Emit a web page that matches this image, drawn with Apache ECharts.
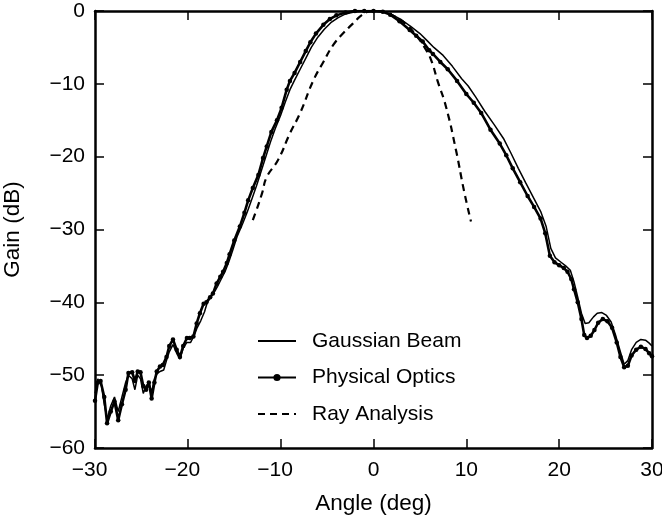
<!DOCTYPE html>
<html>
<head>
<meta charset="utf-8">
<script src="https://cdn.jsdelivr.net/npm/echarts@6/dist/echarts.min.js"></script>
<style>
  html, body { margin: 0; padding: 0; background: #fff; }
  #chart { width: 662px; height: 516px; }
</style>
</head>
<body>
<div id="chart"></div>
<script>
// Antenna pattern: gain versus angle for three analysis methods
const xTicks = [-30, -20, -10, 0, 10, 20, 30];
const yTicks = [-60, -50, -40, -30, -20, -10, 0];

// Physical optics (thick line with dots)
const poAngle = [-30.0, -29.7, -29.4, -29.0, -28.7, -28.3, -27.9, -27.5, -27.1, -26.7, -26.4, -26.0, -25.7, -25.4, -25.1, -24.8, -24.5, -24.2, -23.9, -23.6, -23.35, -23.0, -22.7, -22.3, -22.0, -21.6, -21.2, -20.85, -20.5, -20.1, -19.8, -19.4, -19.05, -18.7, -18.3, -18.0, -17.6, -17.3, -16.9, -16.5, -16.2, -15.8, -15.5, -15.0, -14.4, -13.9, -13.5, -13.0, -12.4, -11.9, -11.5, -11.0, -10.4, -9.9, -9.35, -9.0, -8.5, -7.9, -7.3, -6.8, -6.2, -5.4, -4.7, -4.0, -3.0, -2.0, -1.0, 0, 1.0, 1.8, 2.8, 3.9, 4.6, 5.3, 6.0, 6.4, 7.2, 8.0, 9.0, 10.0, 10.8, 11.6, 12.6, 13.6, 14.3, 15.0, 15.8, 16.6, 17.3, 18.0, 18.5, 19.0, 19.5, 20.0, 20.5, 20.9, 21.3, 21.6, 22.0, 22.4, 22.7, 23.0, 23.4, 23.8, 24.2, 24.7, 25.2, 25.7, 26.2, 26.6, 27.0, 27.4, 27.8, 28.3, 28.8, 29.3, 29.7, 30.0];
const poGain = [-53.5, -51.0, -50.8, -53.0, -56.6, -55.0, -53.6, -56.2, -54.0, -52.0, -49.7, -49.6, -50.8, -49.5, -49.6, -51.5, -52.0, -51.0, -53.2, -51.0, -49.5, -48.8, -48.6, -47.5, -46.0, -45.1, -46.5, -47.5, -46.0, -44.9, -44.9, -44.7, -42.9, -41.5, -40.2, -40.0, -39.3, -38.8, -37.4, -36.5, -35.8, -34.6, -33.4, -31.5, -29.6, -27.7, -26.0, -24.3, -22.5, -20.2, -18.6, -16.6, -15.0, -13.3, -10.8, -9.6, -8.5, -7.0, -5.5, -4.3, -3.1, -1.9, -1.1, -0.6, -0.2, 0, 0, 0, -0.1, -0.5, -1.4, -2.6, -3.4, -4.2, -5.4, -5.9, -7.0, -8.0, -9.6, -11.4, -12.6, -14.0, -16.3, -18.2, -19.8, -21.6, -23.5, -25.4, -26.9, -28.5, -30.5, -33.6, -34.5, -34.9, -35.3, -35.8, -36.8, -38.2, -40.0, -42.3, -44.5, -44.9, -44.6, -43.8, -42.8, -42.3, -42.6, -43.5, -45.5, -47.5, -48.9, -48.7, -47.3, -46.5, -46.1, -46.4, -47.0, -47.4];

// Gaussian beam (thin line)
const gbAngle = [-30.0, -29.7, -29.3, -29.0, -28.7, -28.3, -27.9, -27.5, -27.1, -26.7, -26.4, -26.0, -25.7, -25.4, -25.1, -24.8, -24.5, -24.2, -23.9, -23.6, -23.3, -23.0, -22.6, -22.3, -22.0, -21.6, -21.2, -20.85, -20.5, -20.1, -19.7, -19.3, -19.0, -18.6, -18.2, -17.9, -17.5, -17.1, -16.8, -16.4, -16.0, -15.6, -15.2, -14.7, -14.1, -13.6, -13.1, -12.6, -12.1, -11.6, -11.1, -10.6, -10.0, -9.5, -9.0, -8.5, -7.9, -7.3, -6.7, -6.0, -5.3, -4.6, -3.8, -3.0, -2.0, -1.0, 0, 1.0, 2.0, 3.0, 4.0, 5.0, 5.8, 6.5, 7.5, 8.5, 9.5, 10.2, 11.0, 12.0, 13.0, 14.0, 14.8, 15.6, 16.4, 17.3, 18.0, 18.6, 19.1, 19.6, 20.2, 20.7, 21.2, 21.6, 22.0, 22.4, 22.8, 23.2, 23.7, 24.1, 24.6, 25.1, 25.6, 26.1, 26.6, 27.0, 27.4, 27.8, 28.3, 28.8, 29.3, 29.7, 30.0];
const gbGain = [-52.5, -50.5, -51.5, -54.0, -56.0, -54.2, -53.0, -55.0, -53.0, -51.0, -50.0, -50.5, -52.0, -50.0, -50.5, -52.5, -51.5, -51.0, -52.3, -50.5, -49.8, -49.5, -49.3, -48.0, -46.8, -45.8, -47.0, -47.8, -46.3, -45.5, -45.5, -44.5, -43.5, -42.5, -41.3, -40.0, -39.2, -38.5, -37.8, -36.8, -35.8, -34.5, -33.0, -31.0, -29.2, -27.6, -25.8, -24.0, -22.0, -20.0, -18.0, -16.2, -14.3, -12.5, -10.8, -9.5, -8.0, -6.5, -5.0, -3.6, -2.5, -1.6, -0.9, -0.4, -0.1, 0, 0, -0.1, -0.5, -1.2, -2.1, -3.1, -4.1, -5.0, -6.1, -7.6, -9.3, -10.3, -11.8, -13.8, -15.6, -17.5, -19.5, -21.6, -23.6, -25.8, -27.5, -29.6, -32.6, -33.9, -34.5, -35.0, -35.6, -37.2, -39.3, -41.5, -42.9, -42.8, -42.0, -41.5, -41.4, -41.8, -42.7, -44.6, -46.8, -48.5, -48.0, -46.5, -45.5, -45.1, -45.2, -45.6, -46.0];

// Ray analysis (dashed line)
const rayAngle = [-13.0, -12.6, -12.0, -11.5, -10.3, -9.0, -7.9, -6.5, -5.4, -4.35, -3.3, -2.2, -1.3, -0.5, 0.5, 1.5, 2.5, 3.5, 4.5, 5.5, 6.2, 6.9, 7.8, 8.9, 9.75, 10.5];
const rayGain = [-28.7, -27.3, -25.0, -22.8, -20.5, -16.8, -14.0, -9.6, -7.0, -4.7, -3.1, -1.7, -0.6, -0.1, 0, -0.3, -0.9, -1.8, -3.2, -5.0, -6.7, -9.6, -13.1, -19.2, -24.7, -28.9];

const zip = (xs, ys) => xs.map((x, i) => [x, ys[i]]);
const minus = v => String(v).replace('-', '\u2212');
// x labels: keep the digits centred on the tick, the minus sign hangs to the left
const xLabel = v => (v < 0 ? '{neg|' + minus(v) + '}' : minus(v));

const FONT = '"Liberation Sans", Arial, Helvetica, sans-serif';
const INK = '#000';
const CLEAR = 'rgba(0,0,0,0)';

const baseAxis = {
  min: -30, max: 30, interval: 10,
  axisLine: { onZero: false, lineStyle: { color: INK, width: 2.5 } },
  axisTick: { inside: true, length: 9, lineStyle: { color: INK, width: 1.5 } },
  splitLine: { show: false }
};

const chart = echarts.init(document.getElementById('chart'), null, { renderer: 'canvas' });
chart.setOption({
  animation: false,
  backgroundColor: '#fff',
  textStyle: { fontFamily: FONT, color: INK },
  grid: { left: 95, right: 10, top: 11, bottom: 68, containLabel: false, outerBoundsMode: 'none' },
  legend: {
    orient: 'vertical',
    left: 252, top: 325,
    itemWidth: 38, itemHeight: 9, itemGap: 14.5,
    textStyle: { fontFamily: FONT, fontSize: 21, color: INK, lineHeight: 22, padding: [0, 0, 0, 11] },
    data: ['Gaussian Beam', 'Physical Optics', 'Ray Analysis']
  },
  xAxis: [
    Object.assign({}, baseAxis, {
      type: 'value', position: 'bottom',
      name: 'Angle (deg)', nameLocation: 'middle', nameGap: 44,
      nameTextStyle: { fontFamily: FONT, fontSize: 22.5, color: INK },
      axisLabel: {
        fontFamily: FONT, fontSize: 21, color: INK, margin: 12, formatter: xLabel,
        rich: { neg: { fontFamily: FONT, fontSize: 21, color: INK, padding: [0, 11, 0, 0] } }
      }
    }),
    Object.assign({}, baseAxis, {
      type: 'value', position: 'top',
      axisLabel: { show: false }
    })
  ],
  yAxis: [
    Object.assign({}, baseAxis, {
      type: 'value', position: 'left', min: -60, max: 0, interval: 10,
      name: 'Gain (dB)', nameLocation: 'middle', nameGap: 71,
      nameTextStyle: { fontFamily: FONT, fontSize: 22.5, color: INK },
      axisLabel: { fontFamily: FONT, fontSize: 21, color: INK, margin: 10, formatter: minus }
    }),
    Object.assign({}, baseAxis, {
      type: 'value', position: 'right', min: -60, max: 0, interval: 10,
      axisLabel: { show: false }
    })
  ],
  series: [
    {
      name: 'Gaussian Beam', type: 'line', xAxisIndex: 0, yAxisIndex: 0,
      data: zip(gbAngle, gbGain), symbol: 'none', smooth: false,
      lineStyle: { color: INK, width: 1.5 },
      itemStyle: { color: CLEAR, borderColor: CLEAR, borderWidth: 0 }, z: 3
    },
    {
      name: 'Physical Optics', type: 'line', xAxisIndex: 0, yAxisIndex: 0,
      data: zip(poAngle, poGain), symbol: 'circle', symbolSize: 4.5, showSymbol: true,
      lineStyle: { color: INK, width: 2.6 }, itemStyle: { color: INK }, z: 4
    },
    {
      name: 'Ray Analysis', type: 'line', xAxisIndex: 0, yAxisIndex: 0,
      data: zip(rayAngle, rayGain), symbol: 'none', smooth: true,
      lineStyle: { color: INK, width: 2.2, type: [7, 5] },
      itemStyle: { color: CLEAR, borderColor: CLEAR, borderWidth: 0 }, z: 2
    }
  ]
});
</script>
</body>
</html>
